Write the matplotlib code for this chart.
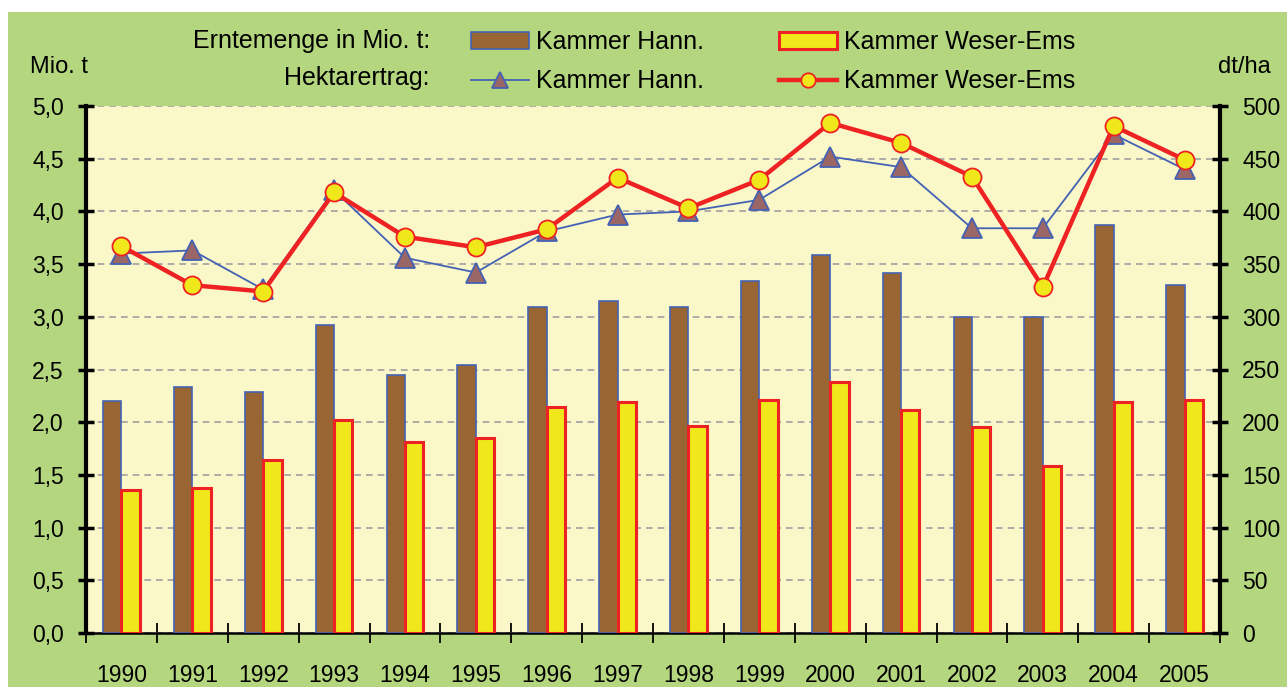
import numpy as np
import matplotlib.pyplot as plt
from matplotlib.patches import Rectangle

plt.rcParams['font.family'] = ['Liberation Sans', 'DejaVu Sans']

# data
years = ['1990', '1991', '1992', '1993', '1994', '1995', '1996', '1997',
         '1998', '1999', '2000', '2001', '2002', '2003', '2004', '2005']
menge_hann = [2.20, 2.33, 2.29, 2.92, 2.45, 2.54, 3.09, 3.15,
              3.09, 3.34, 3.59, 3.42, 3.00, 3.00, 3.87, 3.30]
menge_we = [1.36, 1.38, 1.64, 2.02, 1.81, 1.85, 2.14, 2.19,
            1.96, 2.21, 2.38, 2.12, 1.95, 1.58, 2.19, 2.21]
ertrag_hann = [360, 363, 326, 420, 356, 342, 381, 397,
               400, 411, 452, 442, 384, 384, 473, 440]
ertrag_we = [367, 330, 324, 418, 376, 366, 383, 432,
             403, 430, 484, 465, 433, 328, 481, 449]

green = '#b4d67e'
plotbg = '#faf7c9'
brown = '#996633'
yellow = '#f0e81a'
red = '#ee2222'
blue = '#4462b4'
mauve = '#9a6666'

fig = plt.figure(figsize=(12.87, 6.87), dpi=100, facecolor='white')
fig.patches.append(Rectangle((8 / 1287, 0), 1, 1 - 12 / 687, transform=fig.transFigure,
                             facecolor=green, edgecolor='none', zorder=-10))

ax = fig.add_axes([86 / 1287, 54 / 687, 1134 / 1287, 527 / 687])
ax.set_facecolor(plotbg)
x = np.arange(len(years))
w = 0.26
b1 = ax.bar(x - w / 2, menge_hann, w, color=brown, edgecolor=blue, linewidth=1.2, zorder=3)
b2 = ax.bar(x + w / 2, menge_we, w, color=yellow, edgecolor=red, linewidth=2.2, zorder=3)

ax.set_xlim(-0.5, len(years) - 0.5)
ax.set_ylim(0, 5)
ax.set_yticks(np.arange(0, 5.01, 0.5))
ax.set_yticklabels([f'{v:.1f}'.replace('.', ',') for v in np.arange(0, 5.01, 0.5)])
ax.yaxis.grid(True, linestyle=(0, (4, 3)), color='#a0a0a0', linewidth=1.2, zorder=0)
ax.set_axisbelow(True)
ax.set_xticks(x)
ax.set_xticklabels(years)
ax.set_xticks(np.arange(-0.5, len(years)), minor=True)
ax.tick_params(axis='x', which='major', length=0, pad=22, labelsize=16.5)
ax.tick_params(axis='x', which='minor', length=14, width=1.3, direction='inout')
ax.tick_params(axis='y', length=12, width=2.5, direction='inout', pad=10, labelsize=16.5)
for s in ['top', 'right']:
    ax.spines[s].set_visible(False)
ax.spines['left'].set_linewidth(3)
ax.spines['bottom'].set_linewidth(1.8)

ax2 = ax.twinx()
ax2.set_ylim(0, 500)
ax2.set_yticks(np.arange(0, 501, 50))
l1, = ax2.plot(x, ertrag_hann, color=blue, linewidth=1.3, marker='^', markersize=15,
               markerfacecolor=mauve, markeredgecolor=blue, markeredgewidth=1.3, zorder=4)
l2, = ax2.plot(x, ertrag_we, color=red, linewidth=3.2, marker='o', markersize=13,
               markerfacecolor=yellow, markeredgecolor=red, markeredgewidth=1.3, zorder=5)
ax2.tick_params(axis='y', length=12, width=2.5, direction='inout', pad=10, labelsize=16.5)
for s in ['top', 'left', 'bottom']:
    ax2.spines[s].set_visible(False)
ax2.spines['right'].set_linewidth(3)

fig.text(30 / 1287, 1 - 67 / 687, 'Mio. t', fontsize=17, va='center', ha='left')
fig.text(1218 / 1287, 1 - 67 / 687, 'dt/ha', fontsize=17, va='center', ha='left')
fig.text(430 / 1287, 1 - 41 / 687, 'Erntemenge in Mio. t:', fontsize=18, va='center', ha='right')
fig.text(430 / 1287, 1 - 78 / 687, 'Hektarertrag:', fontsize=18, va='center', ha='right')

fig.legend([b1, l1, b2, l2],
           ['Kammer Hann.', 'Kammer Hann.', 'Kammer Weser-Ems', 'Kammer Weser-Ems'],
           ncol=2, loc='upper left', bbox_to_anchor=(471 / 1287, 1 - 30 / 687),
           frameon=False, fontsize=18, handlelength=2.3, handletextpad=0.3,
           columnspacing=3.0, labelspacing=0.62, borderaxespad=0, borderpad=0,
           markerscale=0.8)

fig.savefig('out.png', dpi=100, facecolor=fig.get_facecolor())
